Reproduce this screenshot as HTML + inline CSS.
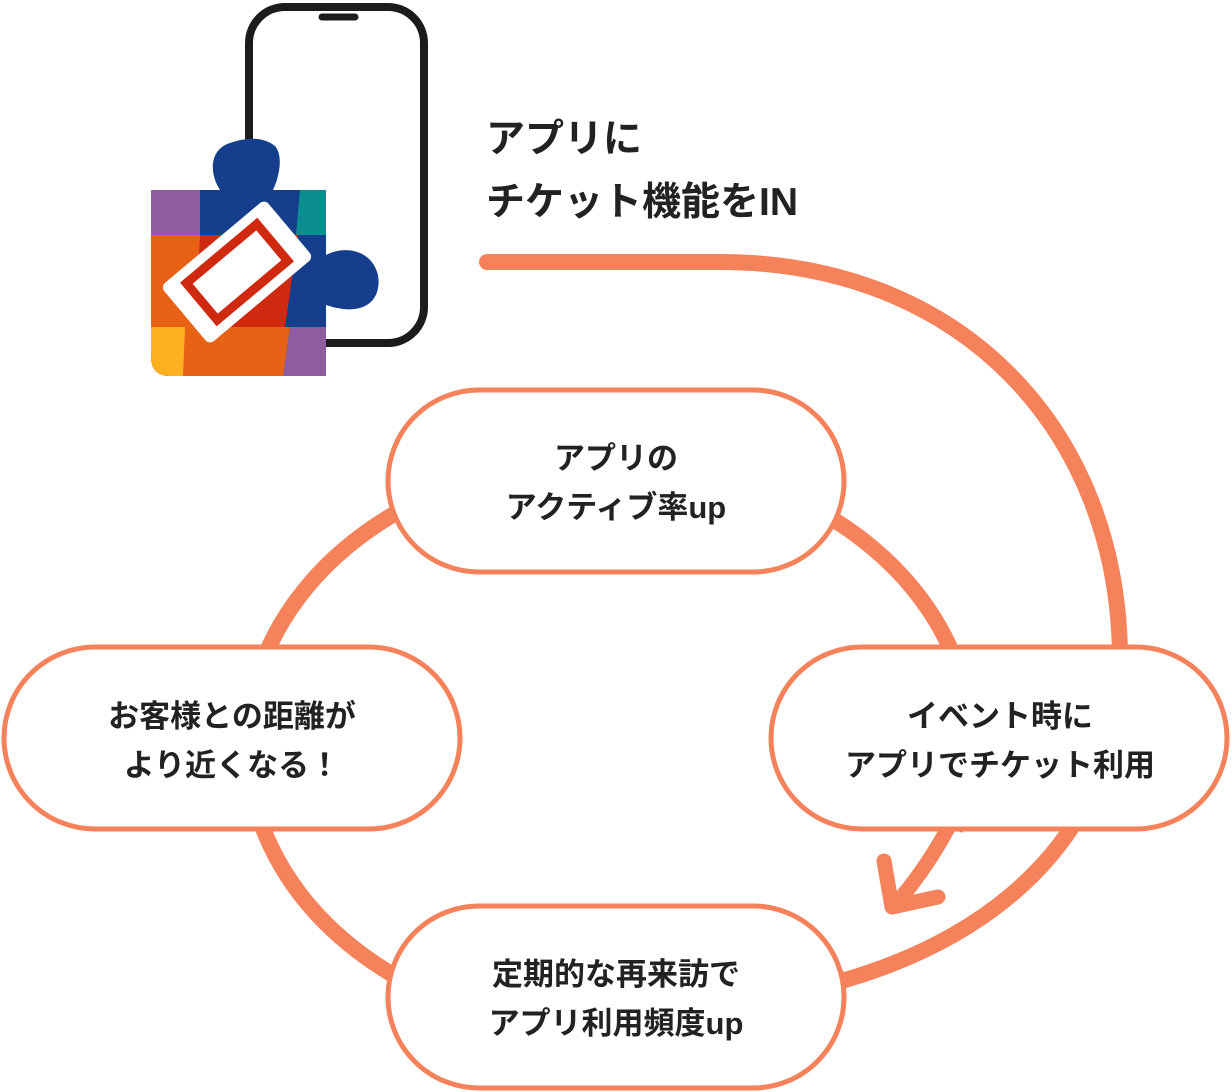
<!DOCTYPE html>
<html><head><meta charset="utf-8"><style>
body{margin:0;background:#fff;}
svg{display:block}
text{font-family:"Liberation Sans","Noto Sans CJK JP",sans-serif;font-weight:700;fill:#222;}
</style></head><body>
<svg width="1232" height="1092" viewBox="0 0 1232 1092">
<!-- phone -->
<rect x="249" y="7" width="175" height="336" rx="36" fill="#fff" stroke="#1c1c1c" stroke-width="8"/>
<line x1="322" y1="17" x2="355" y2="17" stroke="#1c1c1c" stroke-width="7" stroke-linecap="round"/>
<!-- puzzle -->
<defs><clipPath id="pz"><path d="M151 190 H220 C210 175 208 150 230 143 C250 136 265 138 275 146 C283 155 280 175 273 190 H326 V255 C345 245 372 250 378 275 C382 300 365 318 326 305 V376 H170 Q151 376 151 357 Z"/></clipPath></defs>
<g clip-path="url(#pz)">
<rect x="140" y="130" width="250" height="260" fill="#153f8d"/>
<rect x="150" y="190" width="50" height="45" fill="#8f5ca0"/>
<rect x="150" y="235" width="50" height="92" fill="#e76214"/>
<polygon points="200,235 298,235 285,327 195,327" fill="#cf2a10"/>
<polygon points="300,190 326,190 326,235 296,235" fill="#0b8e8f"/>
<rect x="150" y="327" width="35" height="50" fill="#ffb020"/>
<polygon points="185,327 290,327 283,377 183,377" fill="#e76214"/>
<polygon points="290,327 326,327 326,377 283,377" fill="#8f5ca0"/>
</g>
<g transform="translate(237,272) rotate(-40)">
<rect x="-68" y="-38" width="136" height="76" rx="6" fill="#fff"/>
<rect x="-46" y="-24" width="92" height="48" fill="none" stroke="#cf2a10" stroke-width="9"/>
</g>
<!-- title -->
<text x="486" y="152" font-size="39">アプリに</text>
<text x="486" y="215" font-size="39">チケット機能をIN</text>
<!-- ring (open at bottom-right) -->
<path d="M955 830 A362 287 0 1 0 840 966" fill="none" stroke="#f5825a" stroke-width="16"/>
<!-- big arc -->
<path d="M487 262 H720 C960 262 1120 430 1120 660 C1120 830 1000 935 845 980" fill="none" stroke="#f5825a" stroke-width="16" stroke-linecap="round"/>
<!-- arrow -->
<path d="M948 828 C932 858 914 883 895 905" fill="none" stroke="#f5825a" stroke-width="15"/>
<path d="M884 861 L892 907 L938 897" fill="none" stroke="#f5825a" stroke-width="15" stroke-linecap="round" stroke-linejoin="round"/>
<!-- pills -->
<g fill="#fff" stroke="#f5825a" stroke-width="5">
<rect x="388" y="390" width="456" height="182" rx="91"/>
<rect x="388" y="906" width="456" height="182" rx="91"/>
<rect x="4" y="647" width="456" height="182" rx="91"/>
<rect x="771" y="647" width="456" height="182" rx="91"/>
</g>
<g font-size="31" text-anchor="middle">
<text x="616" y="469">アプリの</text>
<text x="616" y="518">アクティブ率up</text>
<text x="232" y="727">お客様との距離が</text>
<text x="232" y="776">より近くなる！</text>
<text x="1000" y="727">イベント時に</text>
<text x="1000" y="776">アプリでチケット利用</text>
<text x="616" y="985">定期的な再来訪で</text>
<text x="616" y="1034">アプリ利用頻度up</text>
</g>
</svg>
</body></html>
